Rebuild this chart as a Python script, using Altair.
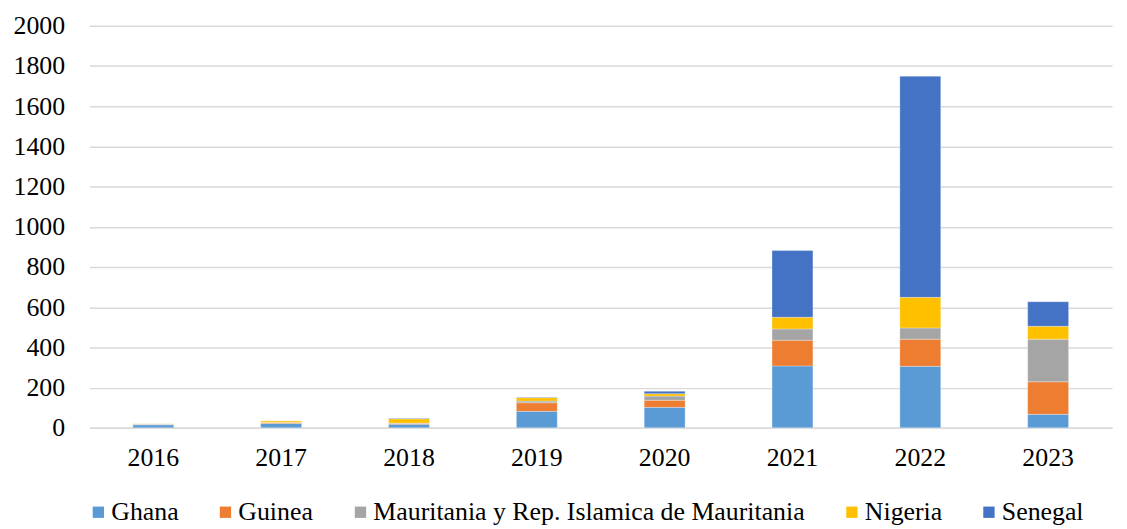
import altair as alt
import pandas as pd

years = ["2016", "2017", "2018", "2019", "2020", "2021", "2022", "2023"]
countries = ["Ghana", "Guinea", "Mauritania y Rep. Islamica de Mauritania", "Nigeria", "Senegal"]
colors = ["#5B9BD5", "#ED7D31", "#A5A5A5", "#FFC000", "#4472C4"]

ghana      = [15, 22, 18, 82, 102, 308, 306, 67]
guinea     = [2, 4, 5, 43, 35, 128, 135, 162]
mauritania = [3, 1, 1, 8, 21, 56, 56, 212]
nigeria    = [1, 8, 21, 17, 12, 58, 152, 64]
senegal    = [0, 0, 3, 2, 12, 332, 1100, 122]

series = [ghana, guinea, mauritania, nigeria, senegal]
rows = []
for ci, (name, vals) in enumerate(zip(countries, series)):
    for y, v in zip(years, vals):
        rows.append({"year": y, "country": name, "value": v, "order": ci})
df = pd.DataFrame(rows)

FONT = "Liberation Serif"
FS = 26

chart = alt.Chart(df).mark_bar(stroke="white", strokeWidth=0.5, strokeOpacity=0.6).encode(
    x=alt.X("year:N", sort=years, title=None,
            scale=alt.Scale(paddingInner=0.68, paddingOuter=0.34),
            axis=alt.Axis(labelAngle=0, labelFont=FONT, labelFontSize=FS, labelColor="#000000",
                          labelPadding=17, ticks=False, domainColor="#d9d9d9", domainWidth=1.5,
                          grid=False)),
    y=alt.Y("value:Q", title=None, stack="zero",
            scale=alt.Scale(domain=[0, 2000], nice=False),
            axis=alt.Axis(values=list(range(0, 2001, 200)), format="d", labelFont=FONT,
                          labelFontSize=FS, labelColor="#000000", labelPadding=25, ticks=False,
                          domain=False, gridColor="#d9d9d9", gridWidth=1.5)),
    color=alt.Color("country:N", sort=countries,
                    scale=alt.Scale(domain=countries, range=colors),
                    legend=alt.Legend(title=None, orient="none", direction="horizontal",
                                      legendX=-4, legendY=477,
                                      symbolType="square", symbolSize=130, symbolStrokeWidth=0,
                                      labelFont=FONT, labelFontSize=FS, labelColor="#000000",
                                      labelLimit=700, columnPadding=34, labelOffset=0)),
    order=alt.Order("order:Q", sort="ascending"),
).properties(
    width=1030, height=405,
    autosize=alt.AutoSizeParams(type="none"),
    padding={"left": 82, "top": 16, "right": 7, "bottom": 97},
).configure_view(stroke=None)

chart.save("out.html", embed_options={"renderer": "svg", "actions": False})
